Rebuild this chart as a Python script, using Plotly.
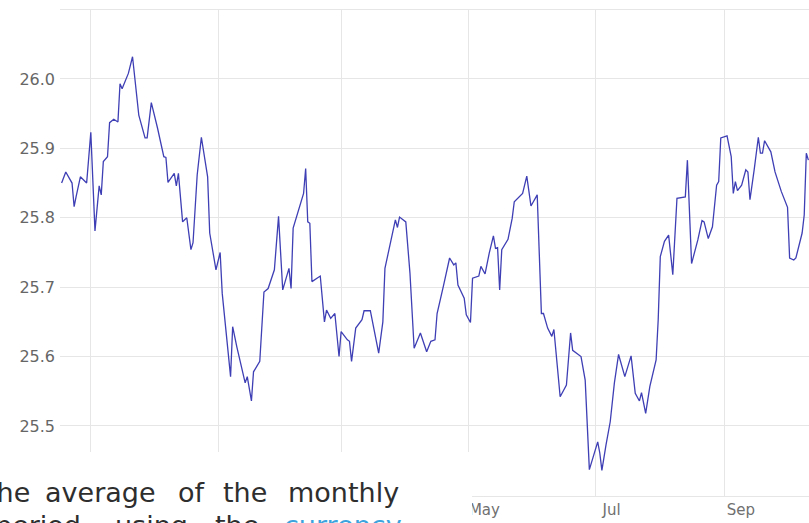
import plotly.graph_objects as go

# ---- data ----
dates = [
    "2018-10-18", "2018-10-20", "2018-10-23", "2018-10-24", "2018-10-25", "2018-10-27",
    "2018-10-30", "2018-11-01", "2018-11-03", "2018-11-05", "2018-11-06", "2018-11-07",
    "2018-11-09", "2018-11-10", "2018-11-12", "2018-11-14", "2018-11-15", "2018-11-16",
    "2018-11-19", "2018-11-21", "2018-11-24", "2018-11-27", "2018-11-28", "2018-11-30",
    "2018-12-03", "2018-12-06", "2018-12-07", "2018-12-08", "2018-12-11", "2018-12-12",
    "2018-12-13", "2018-12-15", "2018-12-16", "2018-12-17", "2018-12-19", "2018-12-20",
    "2018-12-22", "2018-12-24", "2018-12-27", "2018-12-28", "2018-12-31", "2019-01-02",
    "2019-01-03", "2019-01-07", "2019-01-08", "2019-01-10", "2019-01-14", "2019-01-15",
    "2019-01-17", "2019-01-18", "2019-01-21", "2019-01-23", "2019-01-25", "2019-01-28",
    "2019-01-30", "2019-02-01", "2019-02-04", "2019-02-05", "2019-02-06", "2019-02-08",
    "2019-02-11", "2019-02-12", "2019-02-13", "2019-02-14", "2019-02-15", "2019-02-19",
    "2019-02-21", "2019-02-22", "2019-02-24", "2019-02-26", "2019-02-28", "2019-03-01",
    "2019-03-04", "2019-03-05", "2019-03-06", "2019-03-08", "2019-03-11", "2019-03-12",
    "2019-03-15", "2019-03-19", "2019-03-21", "2019-03-22", "2019-03-25", "2019-03-27",
    "2019-03-28", "2019-03-29", "2019-04-01", "2019-04-03", "2019-04-05", "2019-04-08",
    "2019-04-11", "2019-04-13", "2019-04-15", "2019-04-16", "2019-04-19", "2019-04-22",
    "2019-04-24", "2019-04-25", "2019-04-26", "2019-04-29", "2019-04-30", "2019-05-02",
    "2019-05-03", "2019-05-06", "2019-05-07", "2019-05-09", "2019-05-11", "2019-05-13",
    "2019-05-14", "2019-05-15", "2019-05-16", "2019-05-17", "2019-05-20", "2019-05-22",
    "2019-05-23", "2019-05-27", "2019-05-29", "2019-05-31", "2019-06-03", "2019-06-05",
    "2019-06-06", "2019-06-08", "2019-06-10", "2019-06-11", "2019-06-14", "2019-06-17",
    "2019-06-19", "2019-06-20", "2019-06-24", "2019-06-26", "2019-06-28", "2019-07-02",
    "2019-07-03", "2019-07-04", "2019-07-06", "2019-07-08", "2019-07-10", "2019-07-12",
    "2019-07-15", "2019-07-18", "2019-07-20", "2019-07-22", "2019-07-23", "2019-07-25",
    "2019-07-27", "2019-07-30", "2019-07-31", "2019-08-01", "2019-08-03", "2019-08-05",
    "2019-08-07", "2019-08-09", "2019-08-13", "2019-08-14", "2019-08-16", "2019-08-19",
    "2019-08-21", "2019-08-22", "2019-08-24", "2019-08-26", "2019-08-28", "2019-08-29",
    "2019-08-30", "2019-09-02", "2019-09-04", "2019-09-05", "2019-09-06", "2019-09-07",
    "2019-09-09", "2019-09-11", "2019-09-12", "2019-09-13", "2019-09-15", "2019-09-17",
    "2019-09-18", "2019-09-19", "2019-09-20", "2019-09-23", "2019-09-25", "2019-09-28",
    "2019-10-01", "2019-10-02", "2019-10-04", "2019-10-05", "2019-10-08", "2019-10-09",
    "2019-10-10", "2019-10-11",
]
rates = [
    25.850, 25.866, 25.850, 25.816, 25.831, 25.859,
    25.850, 25.923, 25.781, 25.846, 25.833, 25.881,
    25.888, 25.937, 25.942, 25.938, 25.993, 25.986,
    26.008, 26.032, 25.948, 25.915, 25.915, 25.966,
    25.929, 25.888, 25.887, 25.851, 25.864, 25.846,
    25.864, 25.794, 25.797, 25.800, 25.754, 25.764,
    25.862, 25.916, 25.859, 25.778, 25.725, 25.750,
    25.691, 25.571, 25.643, 25.614, 25.562, 25.571,
    25.536, 25.578, 25.593, 25.693, 25.698, 25.725,
    25.802, 25.696, 25.727, 25.698, 25.785, 25.806,
    25.835, 25.871, 25.794, 25.792, 25.708, 25.716,
    25.650, 25.667, 25.655, 25.662, 25.600, 25.636,
    25.624, 25.622, 25.593, 25.641, 25.653, 25.666,
    25.666, 25.605, 25.650, 25.727, 25.768, 25.797,
    25.786, 25.801, 25.794, 25.720, 25.612, 25.634,
    25.607, 25.622, 25.624, 25.662, 25.701, 25.742,
    25.732, 25.735, 25.703, 25.684, 25.660, 25.649,
    25.713, 25.716, 25.730, 25.719, 25.749, 25.774,
    25.756, 25.757, 25.696, 25.754, 25.769, 25.799,
    25.823, 25.835, 25.860, 25.817, 25.833, 25.662,
    25.662, 25.641, 25.629, 25.639, 25.542, 25.559,
    25.634, 25.609, 25.600, 25.566, 25.437, 25.477,
    25.461, 25.436, 25.473, 25.506, 25.562, 25.603,
    25.571, 25.601, 25.547, 25.536, 25.548, 25.518,
    25.557, 25.595, 25.653, 25.744, 25.766, 25.775,
    25.718, 25.828, 25.830, 25.883, 25.734, 25.768,
    25.796, 25.794, 25.770, 25.787, 25.847, 25.852,
    25.915, 25.918, 25.888, 25.835, 25.852, 25.839,
    25.847, 25.869, 25.866, 25.826, 25.869, 25.916,
    25.893, 25.893, 25.911, 25.895, 25.866, 25.838,
    25.815, 25.742, 25.739, 25.742, 25.778, 25.804,
    25.893, 25.883,
]
y_ticks = [25.5, 25.6, 25.7, 25.8, 25.9, 26.0]
y_tick_text = ["25.5", "25.6", "25.7", "25.8", "25.9", "26.0"]

line1_words = ["the", "average", "of", "the", "monthly"]
line2_words = ["period,", "using", "the", "currency"]

# ---- layout geometry ----
W, H = 809, 523
ML, MR, MT, MB = 60, 0, 10, 27
PW, PH = W - ML - MR, H - MT - MB


def px_x(px):
    return (px - ML) / PW


def px_y(py):
    return (H - MB - py) / PH


fig = go.Figure()
fig.add_trace(go.Scatter(
    x=dates, y=rates, mode="lines",
    line=dict(color="#3f3fb5", width=1.3),
    hoverinfo="skip", showlegend=False,
))

grid = "#e6e6e6"
fig.update_layout(
    width=W, height=H,
    margin=dict(l=ML, r=MR, t=MT, b=MB, pad=0),
    paper_bgcolor="white", plot_bgcolor="white",
    showlegend=False,
    xaxis=dict(
        type="date",
        range=["2018-10-17 05:30", "2019-10-11 07:00"],
        tick0="2018-11-01", dtick="M2", tickformat="%b",
        showgrid=True, gridcolor=grid, gridwidth=1,
        showline=True, mirror=True, linecolor=grid, linewidth=1,
        zeroline=False, ticks="",
        ticklabelshift=16,
        tickfont=dict(family="DejaVu Sans", size=15, color="#707070"),
    ),
    yaxis=dict(
        range=[25.399, 26.0994],
        tickvals=y_ticks, ticktext=y_tick_text,
        showgrid=True, gridcolor=grid, gridwidth=1,
        showline=False, zeroline=False, ticks="",
        ticklabelstandoff=4,
        tickfont=dict(family="DejaVu Sans", size=16, color="#666666"),
    ),
)

# white page block that overlaps the lower-left part of the chart
fig.add_shape(
    type="rect", xref="paper", yref="paper",
    x0=px_x(-20), x1=px_x(472), y0=px_y(560), y1=px_y(452),
    fillcolor="white", line=dict(width=0), layer="above",
)

line1_left = [-15, 44, 177, 222, 287]
line2_left = [-6, 114, 214, 283]
text_font = dict(family="DejaVu Sans", size=27, color="#2e2e2e")
for word, left in zip(line1_words, line1_left):
    fig.add_annotation(
        text=word, xref="paper", yref="paper",
        x=px_x(left), y=px_y(476), xanchor="left", yanchor="top",
        showarrow=False, font=text_font, borderpad=0,
    )
for word, left in zip(line2_words, line2_left):
    f = dict(text_font)
    if word == "currency":
        f["color"] = "#3da3dd"
    fig.add_annotation(
        text=word, xref="paper", yref="paper",
        x=px_x(left), y=px_y(509), xanchor="left", yanchor="top",
        showarrow=False, font=f, borderpad=0,
    )

fig.write_html(
    "out.html",
    config={"displayModeBar": False},
    post_script="document.body.style.margin='0';document.body.style.overflow='hidden';",
)
